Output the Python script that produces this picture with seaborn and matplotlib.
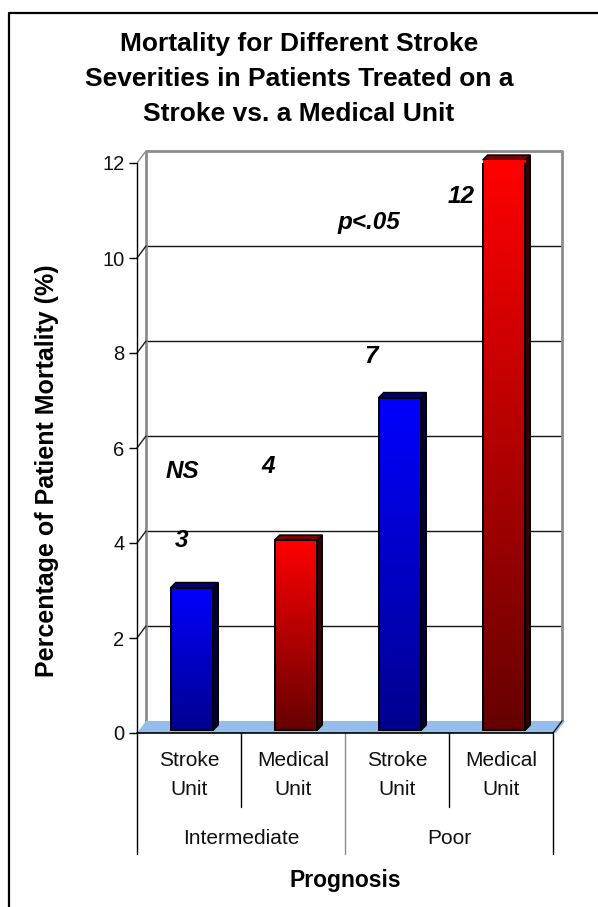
import numpy as np
import pandas as pd
import matplotlib
matplotlib.use("Agg")
import matplotlib.pyplot as plt
import seaborn as sns
from matplotlib.colors import LinearSegmentedColormap
from matplotlib.patches import Polygon
from matplotlib.lines import Line2D
from matplotlib.transforms import ScaledTranslation, blended_transform_factory

# ---- data ----
groups = ["Intermediate", "Intermediate", "Poor", "Poor"]
units = ["Stroke\nUnit", "Medical\nUnit", "Stroke\nUnit", "Medical\nUnit"]
mortality = [3, 4, 7, 12]
y_ticks = [0, 2, 4, 6, 8, 10, 12]
group_names = ["Intermediate", "Poor"]

title = "Mortality for Different Stroke\nSeverities in Patients Treated on a\nStroke vs. a Medical Unit"
y_label = "Percentage of Patient Mortality (%)"
x_label = "Prognosis"
notes = ["NS", "p<.05"]

# ---- styling ----
face_top = ["#0000FF", "#FF0000", "#0000FF", "#FF0000"]
face_bottom = ["#00008E", "#660000", "#00008E", "#660000"]
cap_colors = ["#00007A", "#7A0000", "#00007A", "#7A0000"]
side_colors = ["#000035", "#350000", "#000035", "#350000"]
note_xy = [(-0.06, 5.5), (1.73, 10.75)]
value_xy = [(-0.07, 4.05), (0.76, 5.62), (1.75, 7.92), (2.62, 11.3)]

sns.set_theme(style="white")
plt.rcParams["font.family"] = ["Liberation Sans", "DejaVu Sans"]

W, H = 598, 907
fig = plt.figure(figsize=(W / 100, H / 100), dpi=100)
fig.patch.set_facecolor("white")


def fy(py):
    return 1 - py / H


# front plane of the plot box
ax_left, ax_bottom, ax_w, ax_h = 137, 733, 416, 570
ax = fig.add_axes([ax_left / W, fy(ax_bottom), ax_w / W, ax_h / H])
ax.set_facecolor("none")

df = pd.DataFrame({
    "key": [f"{g}|{u}" for g, u in zip(groups, units)],
    "group": groups,
    "unit": units,
    "value": mortality,
})

sns.barplot(data=df, x="key", y="value", hue="key", palette=face_top,
            width=0.41, saturation=1, legend=False, ax=ax,
            edgecolor="black", linewidth=1.4, zorder=3)

n = len(mortality)
ax.set_xlim(-0.5, n - 0.5)
ax.set_ylim(0, 12)

px_x = ax_w / n          # pixels per category
px_y = ax_h / 12.0       # pixels per percent

# back wall and floor depth
wall_dx, wall_dy = 9 / px_x, 12 / px_y
x_lo, x_hi = -0.5, n - 0.5

for v in y_ticks[1:-1]:
    ax.plot([x_lo + wall_dx, x_hi + wall_dx], [v + wall_dy, v + wall_dy],
            color="#141414", lw=1.0, zorder=1, clip_on=False)
ax.plot([x_lo + wall_dx, x_lo + wall_dx, x_hi + wall_dx, x_hi + wall_dx],
        [wall_dy, 12 + wall_dy, 12 + wall_dy, wall_dy],
        color="#8c8c8c", lw=2.0, zorder=1.2, clip_on=False)
for v in y_ticks[1:]:
    ax.plot([x_lo, x_lo + wall_dx], [v, v + wall_dy],
            color="#8c8c8c" if v == 12 else "#1e1e1e", lw=1.0, zorder=1.2, clip_on=False)

floor = Polygon([(x_lo, 0), (x_lo + wall_dx, wall_dy), (x_hi + wall_dx + 3 / px_x, wall_dy),
                 (x_hi + 3 / px_x, 0)], closed=True, facecolor="#94BDEB",
                edgecolor="none", zorder=2, clip_on=False)
ax.add_patch(floor)
ax.plot([x_hi, x_hi + wall_dx], [0, wall_dy], color="#1e1e1e", lw=1.0, zorder=2.1, clip_on=False)

# bars: gradient fronts with a top cap and a side face
bar_off = ax.transData + ScaledTranslation(3 / 100, 3 / 100, fig.dpi_scale_trans)
depth_x, depth_y = 5 / px_x, 5 / px_y
grad = np.linspace(0, 1, 256).reshape(-1, 1)
bars = list(ax.patches)[:n]
for i, bar in enumerate(bars):
    x0, w, h = bar.get_x(), bar.get_width(), bar.get_height()
    bar.set_transform(bar_off)
    bar.set_facecolor("none")
    bar.set_zorder(3.3)
    cmap = LinearSegmentedColormap.from_list(f"bar{i}", [face_bottom[i], face_top[i]])
    img = ax.imshow(grad, extent=[x0, x0 + w, 0, h], origin="lower", cmap=cmap,
                    aspect="auto", interpolation="bilinear", zorder=3.1)
    img.set_transform(bar_off)
    img.set_clip_path(bar)
    side = Polygon([(x0 + w, 0), (x0 + w + depth_x, depth_y),
                    (x0 + w + depth_x, h + depth_y), (x0 + w, h)],
                   closed=True, facecolor=side_colors[i], edgecolor="black",
                   lw=1.0, zorder=3.0, transform=bar_off, clip_on=False)
    cap = Polygon([(x0, h), (x0 + w, h), (x0 + w + depth_x, h + depth_y), (x0 + depth_x, h + depth_y)],
                  closed=True, facecolor=cap_colors[i], edgecolor="black",
                  lw=1.0, zorder=3.0, transform=bar_off, clip_on=False)
    ax.add_patch(side)
    ax.add_patch(cap)

ax.set_xlim(-0.5, n - 0.5)
ax.set_ylim(0, 12)

# axes: only the front vertical axis and the front floor edge
for s in ["top", "right"]:
    ax.spines[s].set_visible(False)
ax.spines["left"].set_color("black")
ax.spines["left"].set_linewidth(1.0)
ax.spines["bottom"].set_color("black")
ax.spines["bottom"].set_linewidth(1.2)
ax.spines["left"].set_zorder(4)
ax.spines["bottom"].set_zorder(4)
ax.set_yticks(y_ticks)
ax.set_yticklabels([str(t) for t in y_ticks])
ax.tick_params(axis="y", left=True, length=6, width=1.0, color="black",
               labelsize=14.5, pad=3, labelcolor="#111111")
ax.set_xticks([])
ax.set_xlabel("")
ax.set_ylabel("")
ax.grid(False)

# category table under the floor
tr = blended_transform_factory(ax.transData, fig.transFigure)
for xb in np.arange(n + 1) - 0.5:
    full = int(round(xb + 0.5)) % 2 == 0
    y_end = 854 if full else 807
    color = "#8c8c8c" if xb == (n - 1) / 2 else "black"
    ax.add_line(Line2D([xb, xb], [fy(733), fy(y_end)], transform=tr,
                       color=color, lw=1.0, clip_on=False))

for i, u in enumerate(units):
    ax.text(i, fy(775), u, transform=tr, ha="center", va="center",
            fontsize=15, color="#111111", linespacing=1.72)
for gname in group_names:
    idx = [i for i, g in enumerate(groups) if g == gname]
    ax.text(np.mean(idx), fy(838), gname, transform=tr, ha="center", va="center",
            fontsize=15, color="#111111")

fig.text((ax_left + ax_w / 2) / W, fy(880), x_label, ha="center", va="center",
         fontsize=16.5, fontweight="bold", color="black")
fig.text(47 / W, fy(471), y_label, rotation=90, ha="center", va="center",
         fontsize=18, fontweight="bold", color="black")
fig.text(299 / W, fy(79), title, ha="center", va="center", fontsize=19,
         fontweight="bold", color="black", linespacing=1.56)

# value labels and significance notes
for (xv, yv), v in zip(value_xy, mortality):
    ax.text(xv, yv, f"{v}", ha="center", va="center", fontsize=17.5,
            fontweight="bold", fontstyle="italic", color="black", zorder=5)
for (xv, yv), t in zip(note_xy, notes):
    ax.text(xv, yv, t, ha="center", va="center", fontsize=17.5,
            fontweight="bold", fontstyle="italic", color="black", zorder=5)

# frame around the chart
fig.add_artist(Line2D([9 / W, 9 / W, 1.0], [0.0, fy(13), fy(13)],
                      transform=fig.transFigure, color="black", lw=1.6))

fig.savefig("out.png", dpi=100, facecolor="white")
